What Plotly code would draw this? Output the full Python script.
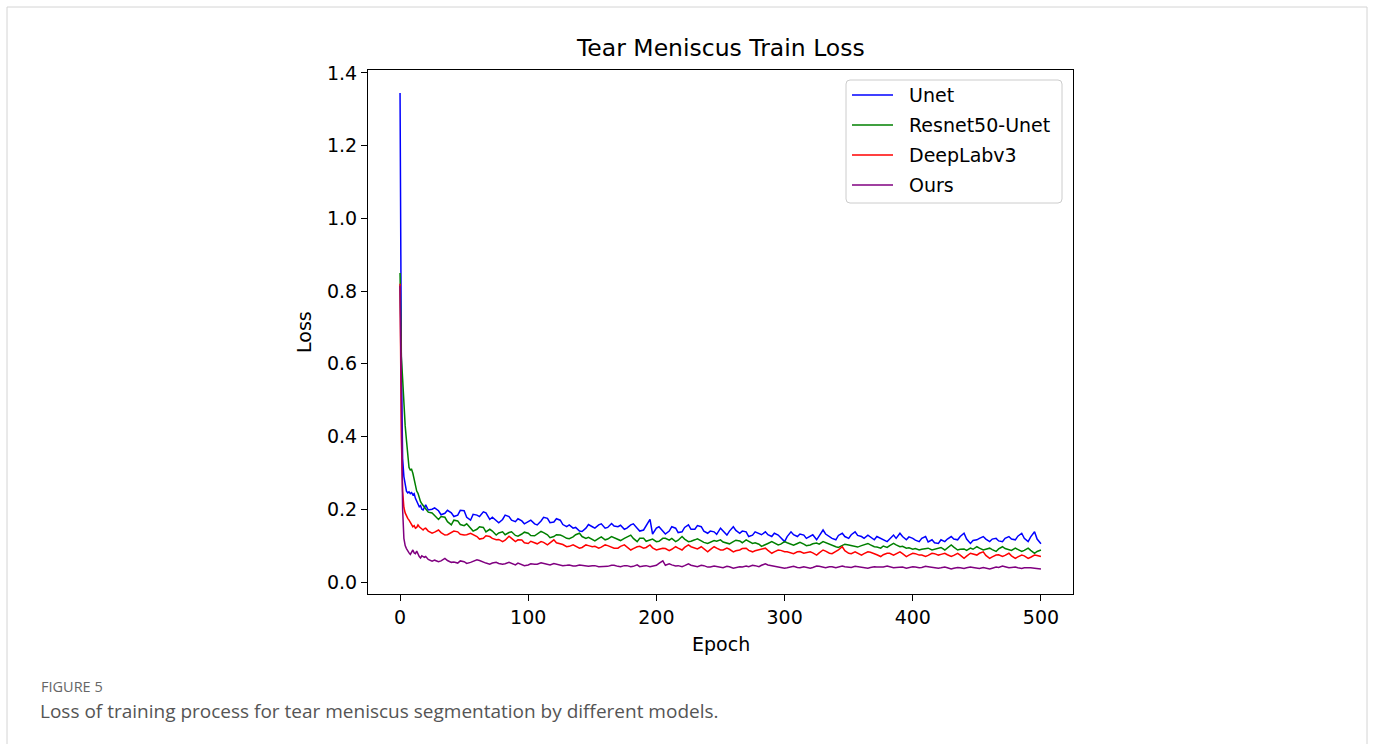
import plotly.graph_objects as go

# ---------------- data ----------------
# main samples: every epoch 0..20, then every 5 epochs 25..500
EPOCHS_MAIN = list(range(0, 21)) + list(range(25, 501, 5))
# in-between samples at 22, 27, ..., 497 (local wiggles of the noisy curves)
EPOCHS_MID = list(range(22, 498, 5))

UNET = [1.345, 0.62, 0.34, 0.29, 0.27, 0.25, 0.245, 0.248, 0.243, 0.246, 0.24,
        0.243, 0.23, 0.222, 0.212, 0.207, 0.21, 0.2, 0.198, 0.205, 0.212,
        0.2, 0.196, 0.189, 0.19, 0.184, 0.196, 0.17, 0.184, 0.193, 0.172,
        0.168, 0.172, 0.18, 0.166, 0.168, 0.166, 0.16, 0.168, 0.175, 0.165,
        0.17, 0.152, 0.148, 0.14, 0.148, 0.152, 0.157, 0.148, 0.161, 0.152,
        0.145, 0.157, 0.148, 0.143, 0.172, 0.148, 0.138, 0.14, 0.148, 0.138,
        0.157, 0.145, 0.152, 0.134, 0.138, 0.148, 0.129, 0.152, 0.134, 0.138,
        0.129, 0.134, 0.138, 0.125, 0.129, 0.111, 0.138, 0.125, 0.129, 0.125,
        0.116, 0.143, 0.125, 0.116, 0.134, 0.12, 0.138, 0.125, 0.129, 0.116,
        0.12, 0.111, 0.129, 0.134, 0.116, 0.12, 0.111, 0.125, 0.116, 0.106,
        0.111, 0.125, 0.116, 0.134, 0.106, 0.116, 0.125, 0.111, 0.12, 0.111,
        0.125, 0.116, 0.134, 0.111, 0.138, 0.105]
UNET_MID = [0.198, 0.204, 0.185, 0.197, 0.18, 0.197, 0.178, 0.186, 0.18, 0.19,
            0.178, 0.163, 0.184, 0.17, 0.174, 0.16, 0.17, 0.157, 0.178, 0.163,
            0.174, 0.158, 0.157, 0.15, 0.139, 0.158, 0.148, 0.16, 0.15, 0.154,
            0.156, 0.148, 0.16, 0.14, 0.155, 0.132, 0.152, 0.132, 0.152, 0.136,
            0.15, 0.145, 0.155, 0.14, 0.14, 0.131, 0.14, 0.14, 0.142, 0.14,
            0.125, 0.138, 0.13, 0.13, 0.134, 0.122, 0.125, 0.13, 0.132, 0.12,
            0.13, 0.128, 0.132, 0.12, 0.128, 0.125, 0.13, 0.128, 0.12, 0.124,
            0.125, 0.116, 0.118, 0.12, 0.125, 0.124, 0.115, 0.12, 0.11, 0.108,
            0.116, 0.118, 0.118, 0.125, 0.118, 0.114, 0.12, 0.118, 0.118, 0.113,
            0.12, 0.118, 0.126, 0.12, 0.124, 0.118]

RESNET50_UNET = [0.85, 0.62, 0.56, 0.48, 0.43, 0.39, 0.35, 0.315, 0.308, 0.31, 0.299,
                 0.28, 0.262, 0.25, 0.244, 0.23, 0.221, 0.215, 0.21, 0.207, 0.2,
                 0.19, 0.172, 0.178, 0.157, 0.168, 0.155, 0.148, 0.145, 0.15, 0.145,
                 0.129, 0.138, 0.136, 0.128, 0.132, 0.134, 0.127, 0.139, 0.13, 0.125,
                 0.129, 0.12, 0.124, 0.134, 0.12, 0.116, 0.12, 0.116, 0.125, 0.116,
                 0.12, 0.129, 0.111, 0.12, 0.116, 0.111, 0.12, 0.115, 0.111, 0.125,
                 0.111, 0.116, 0.113, 0.106, 0.114, 0.116, 0.106, 0.111, 0.113, 0.116,
                 0.106, 0.104, 0.102, 0.111, 0.102, 0.111, 0.104, 0.106, 0.104, 0.102,
                 0.107, 0.111, 0.103, 0.097, 0.1, 0.102, 0.097, 0.1, 0.106, 0.097,
                 0.093, 0.095, 0.106, 0.097, 0.093, 0.09, 0.088, 0.093, 0.088, 0.093,
                 0.088, 0.102, 0.088, 0.091, 0.093, 0.097, 0.088, 0.093, 0.084, 0.097,
                 0.088, 0.093, 0.084, 0.093, 0.079, 0.088]
RESNET50_UNET_MID = [0.192, 0.183, 0.18, 0.166, 0.17, 0.158, 0.16, 0.14, 0.152, 0.138,
                     0.14, 0.135, 0.13, 0.138, 0.126, 0.137, 0.128, 0.132, 0.136, 0.122,
                     0.13, 0.126, 0.119, 0.13, 0.125, 0.123, 0.113, 0.124, 0.118, 0.122,
                     0.114, 0.123, 0.12, 0.12, 0.112, 0.118, 0.112, 0.12, 0.12, 0.115,
                     0.118, 0.112, 0.119, 0.109, 0.11, 0.112, 0.11, 0.105, 0.115, 0.108,
                     0.112, 0.108, 0.098, 0.106, 0.108, 0.104, 0.108, 0.101, 0.109, 0.1,
                     0.105, 0.104, 0.108, 0.101, 0.095, 0.104, 0.1, 0.096, 0.102, 0.102,
                     0.096, 0.099, 0.1, 0.102, 0.098, 0.094, 0.092, 0.09, 0.093, 0.09,
                     0.095, 0.094, 0.096, 0.09, 0.087, 0.09, 0.093, 0.09, 0.089, 0.091,
                     0.092, 0.087, 0.09, 0.087, 0.087, 0.084]

DEEPLABV3 = [0.82, 0.4, 0.25, 0.205, 0.19, 0.18, 0.175, 0.17, 0.165, 0.158, 0.152,
             0.155, 0.148, 0.15, 0.157, 0.152, 0.148, 0.145, 0.143, 0.147, 0.148,
             0.134, 0.143, 0.129, 0.136, 0.138, 0.129, 0.134, 0.125, 0.12, 0.125,
             0.116, 0.111, 0.126, 0.111, 0.1155, 0.106, 0.108, 0.111, 0.102, 0.116,
             0.106, 0.097, 0.102, 0.093, 0.102, 0.097, 0.093, 0.102, 0.097, 0.093,
             0.102, 0.088, 0.097, 0.093, 0.102, 0.088, 0.093, 0.086, 0.097, 0.088,
             0.102, 0.093, 0.097, 0.083, 0.097, 0.088, 0.093, 0.083, 0.088, 0.093,
             0.083, 0.088, 0.093, 0.079, 0.088, 0.083, 0.079, 0.083, 0.079, 0.083,
             0.074, 0.088, 0.079, 0.083, 0.097, 0.079, 0.083, 0.074, 0.083, 0.079,
             0.07, 0.079, 0.074, 0.083, 0.07, 0.079, 0.074, 0.07, 0.079, 0.074,
             0.079, 0.07, 0.079, 0.065, 0.079, 0.074, 0.083, 0.065, 0.074, 0.07,
             0.079, 0.065, 0.074, 0.065, 0.074, 0.07]
DEEPLABV3_MID = [0.14, 0.137, 0.136, 0.13, 0.14, 0.131, 0.13, 0.13, 0.118, 0.127,
                 0.12, 0.117, 0.115, 0.12, 0.116, 0.108, 0.112, 0.105, 0.109, 0.108,
                 0.108, 0.103, 0.098, 0.099, 0.095, 0.1, 0.098, 0.096, 0.1, 0.093,
                 0.098, 0.096, 0.092, 0.098, 0.095, 0.094, 0.09, 0.092, 0.09, 0.093,
                 0.095, 0.097, 0.091, 0.092, 0.089, 0.093, 0.088, 0.09, 0.086, 0.092,
                 0.087, 0.086, 0.089, 0.087, 0.083, 0.087, 0.083, 0.078, 0.084, 0.08,
                 0.08, 0.08, 0.085, 0.078, 0.088, 0.086, 0.078, 0.08, 0.078, 0.082,
                 0.075, 0.075, 0.079, 0.077, 0.078, 0.074, 0.078, 0.074, 0.073, 0.078,
                 0.076, 0.075, 0.073, 0.074, 0.071, 0.077, 0.079, 0.073, 0.069, 0.075,
                 0.073, 0.072, 0.069, 0.072, 0.068, 0.073]

OURS = [0.815, 0.45, 0.2, 0.12, 0.1, 0.092, 0.085, 0.08, 0.076, 0.082, 0.088,
        0.08, 0.078, 0.085, 0.076, 0.07, 0.066, 0.072, 0.07, 0.068, 0.07,
        0.057, 0.056, 0.065, 0.054, 0.052, 0.056, 0.054, 0.061, 0.054, 0.049,
        0.054, 0.049, 0.054, 0.047, 0.049, 0.047, 0.049, 0.053, 0.048, 0.051,
        0.047, 0.046, 0.044, 0.047, 0.043, 0.045, 0.042, 0.044, 0.046, 0.043,
        0.045, 0.042, 0.047, 0.044, 0.042, 0.046, 0.058, 0.05, 0.044, 0.042,
        0.05, 0.043, 0.046, 0.041, 0.044, 0.04, 0.043, 0.038, 0.042, 0.044,
        0.046, 0.042, 0.05, 0.045, 0.041, 0.038, 0.041, 0.04, 0.042, 0.038,
        0.044, 0.04, 0.042, 0.039, 0.044, 0.041, 0.043, 0.04, 0.038, 0.042,
        0.04, 0.044, 0.039, 0.041, 0.038, 0.042, 0.039, 0.043, 0.04, 0.038,
        0.041, 0.036, 0.04, 0.037, 0.041, 0.038, 0.04, 0.036, 0.041, 0.044,
        0.039, 0.041, 0.037, 0.04, 0.038, 0.036]
OURS_MID = [0.062, 0.06, 0.058, 0.059, 0.055, 0.058, 0.051, 0.056, 0.059, 0.052,
            0.052, 0.051, 0.05, 0.051, 0.052, 0.045, 0.05, 0.049, 0.051, 0.047,
            0.049, 0.045, 0.047, 0.044, 0.046, 0.043, 0.045, 0.042, 0.043, 0.046,
            0.042, 0.045, 0.043, 0.042, 0.045, 0.043, 0.051, 0.046, 0.047, 0.045,
            0.045, 0.046, 0.042, 0.045, 0.041, 0.043, 0.039, 0.042, 0.04, 0.041,
            0.042, 0.045, 0.046, 0.047, 0.043, 0.04, 0.039, 0.043, 0.039, 0.041,
            0.04, 0.043, 0.039, 0.042, 0.041, 0.042, 0.04, 0.042, 0.041, 0.04,
            0.041, 0.041, 0.042, 0.04, 0.041, 0.04, 0.041, 0.04, 0.042, 0.04,
            0.039, 0.039, 0.038, 0.039, 0.039, 0.04, 0.037, 0.039, 0.038, 0.04,
            0.042, 0.04, 0.039, 0.039, 0.039, 0.037]

SERIES_NAMES = ["Unet", "Resnet50-Unet", "DeepLabv3", "Ours"]
SERIES_MAIN = [UNET, RESNET50_UNET, DEEPLABV3, OURS]
SERIES_MID = [UNET_MID, RESNET50_UNET_MID, DEEPLABV3_MID, OURS_MID]
SERIES_COLORS = ["#0000ff", "#008000", "#ff0000", "#800080"]

X_TICKS = [0, 100, 200, 300, 400, 500]
Y_TICKS = [0.0, 0.2, 0.4, 0.6, 0.8, 1.0, 1.2, 1.4]

TITLE = "Tear Meniscus Train Loss"
X_LABEL = "Epoch"
Y_LABEL = "Loss"
FIG_LABEL = "FIGURE 5"
CAPTION = "Loss of training process for tear meniscus segmentation by different models."

# ---------------- layout geometry (pixels) ----------------
W, H = 1375, 744
PL, PR, PT, PB = 368, 1073, 70, 594   # plot area edges
PW, PH = PR - PL, PB - PT


def px(x):
    return (x - PL) / PW


def py(y):
    return (PB - y) / PH


MPL_FONT = "DejaVu Sans"

fig = go.Figure()
for name, main, mid, col in zip(SERIES_NAMES, SERIES_MAIN, SERIES_MID, SERIES_COLORS):
    pts = sorted(list(zip(EPOCHS_MAIN, main)) + list(zip(EPOCHS_MID, mid)))
    fig.add_trace(go.Scatter(x=[p[0] for p in pts], y=[p[1] for p in pts],
                             mode="lines", name=name,
                             line=dict(color=col, width=1.5), showlegend=False))

axis_common = dict(showline=True, mirror=True, linecolor="black", linewidth=1.2,
                   ticks="outside", ticklen=6, tickwidth=1.2, tickcolor="black",
                   showgrid=False, zeroline=False,
                   tickfont=dict(family=MPL_FONT, size=19, color="black"))

fig.update_layout(
    width=W, height=H, autosize=False,
    margin=dict(l=PL, r=W - PR, t=PT, b=H - PB, pad=0),
    paper_bgcolor="white", plot_bgcolor="white",
    xaxis=dict(range=[-25, 525], tickvals=X_TICKS, ticktext=[str(v) for v in X_TICKS],
               **axis_common),
    yaxis=dict(range=[-0.033, 1.408], tickvals=Y_TICKS,
               ticktext=[f"{v:.1f}" for v in Y_TICKS], **axis_common),
    showlegend=False,
)

ann = []
ann.append(dict(text=TITLE, x=0.5, y=py(48), xref="paper", yref="paper",
                showarrow=False, xanchor="center", yanchor="middle",
                font=dict(family=MPL_FONT, size=23.5, color="black")))
ann.append(dict(text=X_LABEL, x=0.5, y=py(644), xref="paper", yref="paper",
                showarrow=False, xanchor="center", yanchor="middle",
                font=dict(family=MPL_FONT, size=19, color="black")))
ann.append(dict(text=Y_LABEL, x=px(304), y=0.5, xref="paper", yref="paper",
                showarrow=False, xanchor="center", yanchor="middle", textangle=-90,
                font=dict(family=MPL_FONT, size=19, color="black")))
ann.append(dict(text=FIG_LABEL, x=px(39), y=py(686), xref="paper", yref="paper",
                showarrow=False, xanchor="left", yanchor="middle",
                font=dict(family="Open Sans", size=14.5, color="#666666")))
ann.append(dict(text=CAPTION, x=px(38), y=py(711), xref="paper", yref="paper",
                showarrow=False, xanchor="left", yanchor="middle",
                font=dict(family="Open Sans", size=19, color="#555555")))

shapes = []
shapes.append(dict(type="rect", xref="paper", yref="paper",
                   x0=px(7), x1=px(1367), y0=py(770), y1=py(7),
                   line=dict(color="#d4d4d4", width=1), fillcolor="rgba(0,0,0,0)",
                   layer="below"))

# matplotlib-style legend
LX0, LX1, LY0, LY1 = 846, 1062, 80, 203
r = 4
path = (f"M {px(LX0 + r)},{py(LY0)} L {px(LX1 - r)},{py(LY0)} "
        f"Q {px(LX1)},{py(LY0)} {px(LX1)},{py(LY0 + r)} "
        f"L {px(LX1)},{py(LY1 - r)} Q {px(LX1)},{py(LY1)} {px(LX1 - r)},{py(LY1)} "
        f"L {px(LX0 + r)},{py(LY1)} Q {px(LX0)},{py(LY1)} {px(LX0)},{py(LY1 - r)} "
        f"L {px(LX0)},{py(LY0 + r)} Q {px(LX0)},{py(LY0)} {px(LX0 + r)},{py(LY0)} Z")
shapes.append(dict(type="path", xref="paper", yref="paper", path=path,
                   line=dict(color="#cccccc", width=1), fillcolor="rgba(255,255,255,0.8)",
                   layer="above"))
row_y = [95, 125, 155, 185]
for name, col, yy in zip(SERIES_NAMES, SERIES_COLORS, row_y):
    shapes.append(dict(type="line", xref="paper", yref="paper",
                       x0=px(852), x1=px(893), y0=py(yy), y1=py(yy),
                       line=dict(color=col, width=1.5), layer="above"))
    ann.append(dict(text=name, x=px(907), y=py(yy), xref="paper", yref="paper",
                    showarrow=False, xanchor="left", yanchor="middle",
                    font=dict(family=MPL_FONT, size=19, color="black")))

fig.update_layout(annotations=ann, shapes=shapes)
fig.write_html("out.html")
